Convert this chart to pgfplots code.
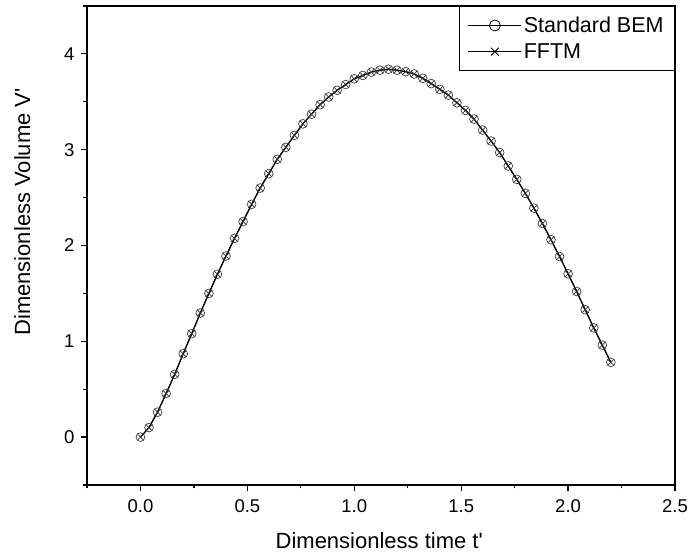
\documentclass[border=0pt]{standalone}
\usepackage{pgfplots}
\pgfplotsset{compat=1.18}
\usepackage{fontspec}
\setmainfont{Liberation Sans}
\pgfplotstableread{
t V
0.00 0.00
0.04 0.10
0.08 0.26
0.12 0.455
0.16 0.655
0.20 0.87
0.24 1.08
0.28 1.295
0.32 1.50
0.36 1.70
0.40 1.89
0.44 2.075
0.48 2.25
0.52 2.43
0.56 2.60
0.60 2.75
0.64 2.90
0.68 3.025
0.72 3.15
0.76 3.27
0.80 3.37
0.84 3.47
0.88 3.55
0.92 3.62
0.96 3.68
1.00 3.74
1.04 3.775
1.08 3.81
1.12 3.83
1.16 3.84
1.20 3.83
1.24 3.815
1.28 3.79
1.32 3.745
1.36 3.69
1.40 3.63
1.44 3.57
1.48 3.49
1.52 3.41
1.56 3.32
1.60 3.205
1.64 3.09
1.68 2.97
1.72 2.83
1.76 2.69
1.80 2.545
1.84 2.39
1.88 2.23
1.92 2.06
1.96 1.885
2.00 1.705
2.04 1.52
2.08 1.33
2.12 1.14
2.16 0.96
2.20 0.78
}\datatable
\begin{document}
\begin{tikzpicture}
\useasboundingbox (-87pt,-74pt) rectangle (604pt,485pt);
\begin{axis}[
  at={(0pt,0pt)}, anchor=south west,
  scale only axis,
  width=588pt, height=479pt,
  xmin=-0.25, xmax=2.5,
  ymin=-0.5, ymax=4.5,
  xtick={0,0.5,1,1.5,2,2.5},
  ytick={0,1,2,3,4},
  minor xtick={-0.25,0.25,0.75,1.25,1.75,2.25},
  minor ytick={-0.5,0.5,1.5,2.5,3.5,4.5},
  xticklabels={0.0,0.5,1.0,1.5,2.0,2.5},
  yticklabels={0,1,2,3,4},
  tick align=outside,
  xtick pos=left, ytick pos=left,
  major tick length=6pt, minor tick length=3.5pt,
  axis line style={line width=1.2pt},
  every tick/.style={black, line width=1.2pt},
  tick label style={font=\fontsize{18.5}{22}\selectfont},
  /pgf/number format/assume math mode=true,
  xticklabel style={yshift=-5pt},
  yticklabel style={xshift=-3pt},
  xlabel={Dimensionless time t\textquotesingle},
  ylabel={Dimensionless Volume V\textquotesingle},
  label style={font=\fontsize{22}{26}\selectfont},
  xlabel style={at={(axis description cs:0.497,-0.1336)}, anchor=base},
  ylabel style={at={(axis description cs:-0.110,0.570)}, anchor=center},
  legend style={at={(1,1)}, anchor=north east, draw=black, line width=0.8pt,
    font=\fontsize{21.5}{26}\selectfont, row sep=5.5pt, inner xsep=9pt, inner ysep=8.5pt,
    cells={anchor=west}},
  legend image code/.code={
    \draw[#1, mark=none, line width=0.8pt] (0pt,0pt) -- (53pt,0pt);
    \draw[#1, only marks, mark options={scale=1.25, line width=0.8pt, draw=black}] plot coordinates {(26.5pt,0pt)};
  },
]
\addplot[black, line width=1.1pt, mark=o, mark size=4.4pt,
  mark options={line width=0.7pt, draw=black!75}] table[x=t,y=V]{\datatable};
\addlegendentry{Standard BEM}
\addplot[black, line width=1.1pt, mark=x, mark size=4.4pt,
  mark options={line width=0.7pt, draw=black!80}] table[x=t,y=V]{\datatable};
\addlegendentry{FFTM}
\end{axis}
\end{tikzpicture}
\end{document}
